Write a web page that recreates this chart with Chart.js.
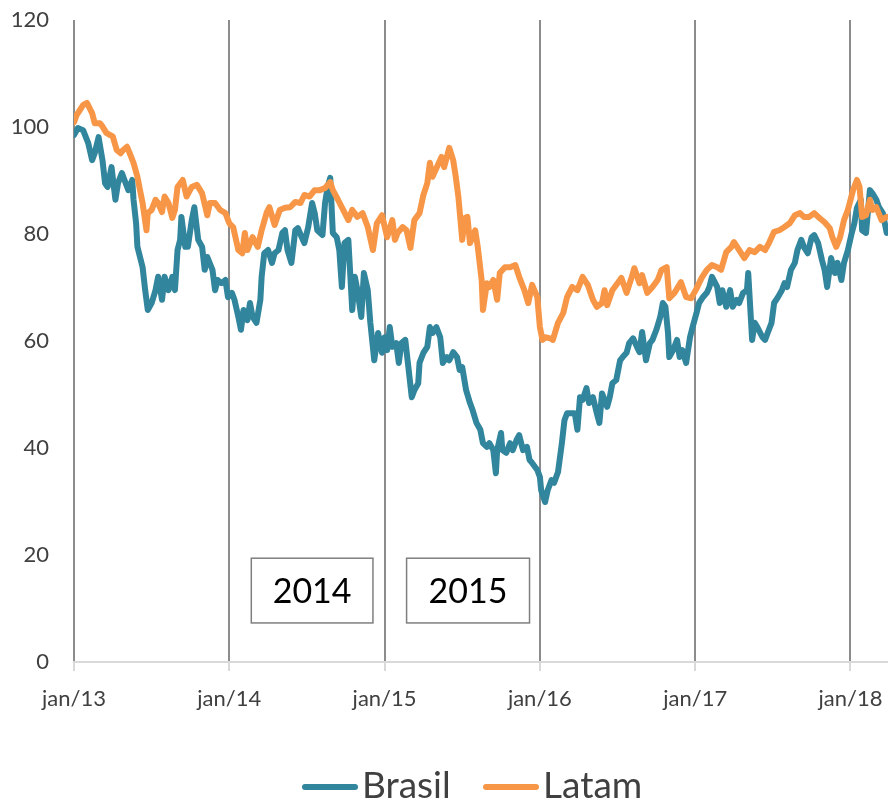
<!DOCTYPE html>
<html>
<head>
<meta charset="utf-8">
<script src="https://cdn.jsdelivr.net/npm/chart.js@4.4.1/dist/chart.umd.min.js"></script>
<style>
  html, body { margin: 0; padding: 0; background: #ffffff; }
  #wrap { position: relative; width: 888px; height: 805px; overflow: hidden; }
  #chart { position: absolute; left: 0; top: 0; }
  .lg-line { position: absolute; height: 6px; border-radius: 3px; }
  .lg-text { position: absolute; font-family: Lato, "Open Sans", sans-serif; font-size: 37px; line-height: 37px; color: #404040; white-space: nowrap; }
</style>
</head>
<body>
<div id="wrap">
  <canvas id="chart" width="888" height="805"></canvas>
  <div class="lg-line" style="left:302px;top:784px;width:56px;background:#31859C"></div>
  <div class="lg-text" style="left:362px;top:765px">Brasil</div>
  <div class="lg-line" style="left:483px;top:784px;width:56px;background:#F79646"></div>
  <div class="lg-text" style="left:543px;top:765px">Latam</div>
</div>
<script>
// ---- Data (x = months since jan/2013, y = index value) ----
const seriesNames = ['Brasil', 'Latam'];
const xTickMonths = [0, 12, 24, 36, 48, 60];
const xTickLabels = ['jan/13', 'jan/14', 'jan/15', 'jan/16', 'jan/17', 'jan/18'];

const brasilMonths = [0.0,0.3,0.7,1.1,1.4,1.6,1.9,2.2,2.4,2.6,2.9,3.2,3.4,3.7,3.9,4.2,4.5,4.6,4.8,4.9,5.3,5.5,5.7,6.0,6.3,6.5,6.8,7.0,7.3,7.6,7.8,8.0,8.2,8.3,8.6,8.8,9.1,9.3,9.6,9.9,10.1,10.3,10.7,10.9,11.1,11.4,11.7,11.9,12.2,12.4,12.7,12.9,13.1,13.4,13.6,13.8,14.1,14.4,14.5,14.7,15.0,15.3,15.5,15.8,16.1,16.3,16.5,16.8,17.1,17.3,17.6,17.8,18.1,18.4,18.6,18.8,19.2,19.4,19.6,19.8,20.0,20.3,20.5,20.7,20.9,21.2,21.5,21.7,21.9,22.2,22.4,22.7,22.9,23.2,23.5,23.8,24.0,24.2,24.4,24.6,24.9,25.1,25.3,25.6,25.8,26.1,26.3,26.6,26.7,27.0,27.3,27.5,27.7,28.0,28.3,28.5,28.8,29.0,29.3,29.6,29.8,30.0,30.3,30.6,30.8,31.1,31.4,31.6,31.9,32.1,32.4,32.6,32.7,33.0,33.1,33.4,33.7,33.9,34.2,34.4,34.7,35.0,35.2,35.4,35.8,36.0,36.1,36.4,36.6,36.9,37.1,37.4,37.7,37.9,38.1,38.5,38.7,38.9,39.1,39.3,39.6,39.8,40.1,40.4,40.6,40.8,41.2,41.4,41.6,41.9,42.2,42.4,42.7,42.9,43.2,43.5,43.7,43.9,44.2,44.5,44.7,45.0,45.3,45.5,45.7,45.9,46.0,46.3,46.6,46.8,47.0,47.3,47.6,47.8,48.1,48.3,48.6,48.9,49.1,49.3,49.7,49.9,50.1,50.4,50.7,50.9,51.2,51.4,51.7,52.0,52.1,52.4,52.6,52.8,53.2,53.4,53.6,53.9,54.1,54.4,54.7,54.9,55.1,55.4,55.7,55.9,56.2,56.4,56.7,57.0,57.2,57.5,57.8,58.0,58.2,58.5,58.8,59.0,59.3,59.5,59.8,60.1,60.3,60.5,60.8,60.9,61.2,61.5,61.7,62.0,62.2,62.5,62.8];
const brasilValues = [98.5,99.8,99.4,97.0,93.8,95.1,98.1,93.8,89.5,88.8,92.5,86.4,89.5,91.4,90.1,88.2,90.1,86.4,82.0,77.6,73.8,69.5,65.8,67.1,69.5,72.0,67.7,72.0,69.5,72.0,69.5,77.0,78.9,83.2,77.6,77.6,82.6,85.0,78.9,77.6,73.3,75.7,73.3,69.5,71.4,70.8,71.4,68.2,69.0,67.7,64.5,62.1,65.8,63.9,67.1,64.5,63.4,67.7,72.0,76.4,77.0,74.6,76.4,77.0,80.2,80.7,77.0,74.6,80.7,81.1,79.4,78.3,81.3,85.8,83.9,80.7,79.8,85.8,88.8,90.5,80.2,79.4,77.0,70.1,78.3,78.9,65.8,72.0,69.5,64.5,72.7,69.5,63.4,56.4,61.5,57.8,60.7,58.3,62.6,58.9,59.6,55.9,59.6,60.2,55.9,49.5,50.8,52.1,55.9,57.8,58.9,62.6,61.5,62.6,60.7,55.9,57.0,56.4,57.9,57.0,54.6,55.1,50.8,48.4,47.1,44.7,43.4,40.9,40.2,40.9,39.6,35.3,39.6,42.8,39.6,39.1,40.9,39.6,41.5,42.4,39.6,40.2,37.8,37.2,35.9,34.6,32.1,29.9,32.1,34.0,33.5,35.5,40.9,45.2,46.5,46.5,46.5,43.4,49.5,49.0,51.2,48.4,49.5,46.5,44.7,50.2,47.7,49.5,52.1,52.7,56.4,57.0,57.8,59.6,60.5,58.9,57.9,61.7,56.4,59.6,60.2,62.1,64.5,67.1,66.4,61.5,57.0,58.3,60.2,57.0,58.3,55.9,60.7,62.6,65.2,67.1,68.2,69.0,70.1,72.0,70.1,67.1,69.5,66.4,69.5,66.4,67.7,67.1,69.0,69.5,72.7,60.2,63.4,62.6,60.7,60.2,61.5,63.4,67.1,68.2,69.5,70.8,70.1,73.3,74.6,77.0,78.9,77.6,76.4,79.4,79.8,78.3,75.1,73.3,70.1,75.5,72.7,74.6,71.4,74.6,77.0,80.2,82.0,84.9,86.4,80.7,80.2,88.2,87.6,86.4,85.0,83.9,80.2];

const latamMonths = [0.0,0.2,0.7,1.0,1.4,1.6,2.0,2.2,2.5,2.8,3.0,3.3,3.6,3.8,4.1,4.3,4.6,4.9,5.1,5.3,5.6,5.7,6.0,6.3,6.5,6.8,7.0,7.3,7.6,7.8,8.0,8.4,8.7,9.1,9.5,9.9,10.3,10.5,10.9,11.3,11.7,12.0,12.3,12.7,13.0,13.2,13.4,13.8,14.2,14.5,14.9,15.1,15.5,15.9,16.3,16.7,17.1,17.5,17.8,18.2,18.6,19.0,19.4,19.8,20.0,20.4,20.8,21.2,21.5,21.9,22.3,22.7,23.1,23.4,23.8,24.2,24.6,24.8,25.0,25.4,25.7,26.0,26.3,26.7,27.0,27.3,27.5,27.7,28.0,28.4,28.6,29.0,29.3,29.5,29.7,30.0,30.2,30.4,30.6,31.0,31.2,31.5,31.6,31.9,32.1,32.4,32.7,32.9,33.3,33.7,34.1,34.4,34.8,35.1,35.4,35.8,36.0,36.2,36.4,36.8,37.0,37.4,37.8,38.1,38.5,38.9,39.3,39.7,40.1,40.4,40.8,41.0,41.2,41.6,42.0,42.3,42.7,43.1,43.3,43.7,43.9,44.3,44.7,45.1,45.4,45.8,46.0,46.4,46.9,47.3,47.7,48.1,48.5,48.9,49.3,49.7,50.0,50.4,50.8,51.0,51.4,51.8,52.2,52.6,53.0,53.4,53.7,54.1,54.5,54.9,55.3,55.7,56.1,56.4,56.8,57.2,57.6,58.0,58.4,58.6,58.9,59.2,59.5,59.8,60.2,60.5,60.7,60.9,61.2,61.5,61.7,62.0,62.4,62.8];
const latamValues = [100.9,102.2,104.1,104.5,102.6,100.7,100.7,100.1,98.9,98.5,98.2,95.7,95.1,95.7,96.3,95.1,93.3,90.7,88.2,85.8,80.7,83.9,84.5,86.4,85.8,84.1,87.0,85.8,83.0,84.5,88.8,90.1,87.0,88.8,89.2,87.6,83.5,85.8,85.8,84.5,83.9,82.0,81.3,77.0,76.4,80.2,77.0,79.4,77.6,80.7,84.1,85.0,81.7,84.5,84.9,85.0,86.0,85.8,87.3,87.0,88.2,88.2,88.6,89.7,88.2,86.4,84.5,82.6,84.5,83.2,83.9,81.3,77.0,82.0,83.5,79.4,82.6,78.9,80.2,81.3,80.7,77.4,82.6,83.9,87.3,89.5,93.3,90.7,92.3,94.4,92.5,96.1,93.8,90.7,87.0,78.9,83.0,83.2,78.3,80.7,77.6,71.4,65.8,70.8,70.1,71.4,67.7,72.7,73.8,73.8,74.2,72.0,69.5,67.1,70.5,68.2,62.6,60.2,60.7,60.5,60.2,63.4,65.2,68.2,70.1,69.5,72.0,70.5,67.7,66.4,67.1,69.5,66.7,69.5,70.8,71.8,69.0,72.0,73.6,70.8,72.3,69.0,70.1,71.4,73.3,73.8,68.0,69.0,71.0,68.2,68.0,69.8,71.8,73.3,74.2,73.8,73.3,76.6,77.6,78.5,77.0,75.5,77.0,76.6,77.6,77.0,78.3,80.4,80.7,81.3,82.0,83.5,83.9,83.2,83.2,83.9,83.0,82.2,81.1,79.4,77.6,79.4,82.6,84.5,88.2,90.1,88.8,83.2,83.5,86.4,84.5,85.0,82.6,83.2];

// Text boxes on the chart (labels and their extent in months / values)
const boxLabels = ['2014', '2015'];
const boxMonthRanges = [[13.7, 23.1], [25.7, 35.2]];
const boxValueRange = [19.4, 7.3];

const FONT = 'Lato, "Open Sans", sans-serif';

function toPoints(xs, ys) { return xs.map((x, i) => ({ x: x, y: ys[i] })); }

const textBoxPlugin = {
  id: 'textBoxes',
  afterDraw(chart) {
    const { ctx, scales } = chart;
    const xs = scales.x, ys = scales.y;
    ctx.save();
    boxLabels.forEach((lab, i) => {
      const x1 = xs.getPixelForValue(boxMonthRanges[i][0]);
      const x2 = xs.getPixelForValue(boxMonthRanges[i][1]);
      const y1 = ys.getPixelForValue(boxValueRange[0]);
      const y2 = ys.getPixelForValue(boxValueRange[1]);
      ctx.fillStyle = '#ffffff';
      ctx.fillRect(x1, y1, x2 - x1, y2 - y1);
      ctx.strokeStyle = '#7f7f7f';
      ctx.lineWidth = 1.5;
      ctx.strokeRect(x1, y1, x2 - x1, y2 - y1);
      ctx.fillStyle = '#000000';
      ctx.font = '34px ' + FONT;
      ctx.textAlign = 'center';
      ctx.textBaseline = 'middle';
      ctx.fillText(lab, (x1 + x2) / 2, (y1 + y2) / 2 + 1);
    });
    ctx.restore();
  }
};

new Chart(document.getElementById('chart'), {
  type: 'line',
  data: {
    datasets: [
      {
        label: seriesNames[0],
        data: toPoints(brasilMonths, brasilValues),
        borderColor: '#31859C',
        backgroundColor: '#31859C',
        borderWidth: 6,
        pointRadius: 0,
        tension: 0,
        borderJoinStyle: 'round',
        borderCapStyle: 'round',
        order: 1
      },
      {
        label: seriesNames[1],
        data: toPoints(latamMonths, latamValues),
        borderColor: '#F79646',
        backgroundColor: '#F79646',
        borderWidth: 6,
        pointRadius: 0,
        tension: 0,
        borderJoinStyle: 'round',
        borderCapStyle: 'round',
        order: 0
      }
    ]
  },
  options: {
    responsive: false,
    animation: false,
    events: [],
    layout: { padding: { top: 20, right: 0, bottom: 0, left: 0 } },
    plugins: { legend: { display: false }, tooltip: { enabled: false } },
    scales: {
      x: {
        type: 'linear',
        min: 0,
        max: 62.9,
        afterBuildTicks(scale) { scale.ticks = xTickMonths.map(v => ({ value: v })); },
        afterFit(scale) { scale.height = 143; scale.paddingLeft = 0; scale.paddingRight = 0; },
        ticks: {
          autoSkip: false,
          maxRotation: 0,
          padding: 15,
          color: '#404040',
          font: { family: FONT, size: 22 },
          callback(value) { const i = xTickMonths.indexOf(value); return i >= 0 ? xTickLabels[i] : ''; }
        },
        grid: { display: true, color: '#8c8c8c', lineWidth: 2, tickColor: '#d9d9d9', tickLength: 9, drawOnChartArea: true },
        border: { display: true, color: '#d9d9d9', width: 2 }
      },
      y: {
        min: 0,
        max: 120,
        afterFit(scale) { scale.width = 74; scale.paddingTop = 0; scale.paddingBottom = 0; },
        ticks: {
          stepSize: 20,
          padding: 25,
          color: '#404040',
          font: { family: FONT, size: 22 }
        },
        grid: { display: false, drawTicks: false },
        border: { display: false }
      }
    }
  },
  plugins: [textBoxPlugin]
});
</script>
</body>
</html>
